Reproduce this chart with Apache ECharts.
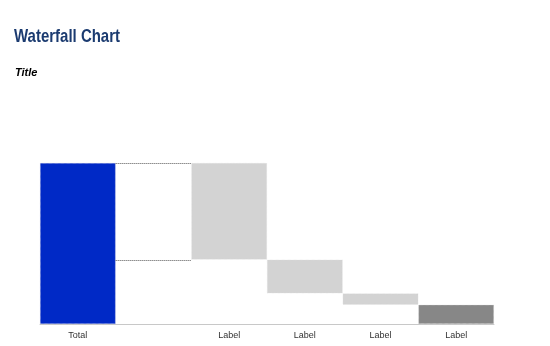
<!DOCTYPE html>
<html><head><meta charset="utf-8">
<script src="https://cdn.jsdelivr.net/npm/echarts@6/dist/echarts.min.js"></script>
<style>html,body{margin:0;padding:0;background:#fff}#c{width:550px;height:346px}</style>
</head><body><div id="c"></div>
<script>
var categories = ['Total', '', 'Label', 'Label', 'Label', 'Label'];
var baseValues = [0, '-', 40, 19, 12, 0];
var barValues = [100, '-', 60, 21, 7, 12];
var barKinds = ['total', 'none', 'step', 'step', 'step', 'end'];
var connectorLevels = [100, 40];
var connectorCategory = 1;
var mainTitle = 'Waterfall Chart';
var subTitle = 'Title';

var kindColor = { total: '#0029C6', step: '#D3D3D3', end: '#878787', none: 'transparent' };

var chart = echarts.init(document.getElementById('c'), null, { renderer: 'canvas' });
chart.setOption({
  animation: false,
  backgroundColor: '#fff',
  graphic: [
    { type: 'text', x: 14, y: 27, scaleX: 0.81, originX: 0, originY: 0,
      style: { text: mainTitle, font: 'bold 18.5px "Liberation Sans", Arial', fill: '#1B3B70', verticalAlign: 'top' } },
    { type: 'text', x: 15, y: 67,
      style: { text: subTitle, font: 'italic bold 11px "Liberation Sans", Arial', fill: '#000', verticalAlign: 'top' } }
  ],
  grid: { left: 40, right: 56, top: 163, bottom: 22 },
  xAxis: {
    type: 'category', data: categories,
    axisLine: { lineStyle: { color: '#C8C8C8', width: 1 } },
    axisTick: { show: false },
    axisLabel: { color: '#333', fontFamily: 'Liberation Sans, Arial', fontSize: 9, margin: 7, interval: 0 }
  },
  yAxis: { type: 'value', min: 0, max: 100, show: false, splitLine: { show: false } },
  series: [
    { type: 'bar', stack: 'w', data: baseValues, barCategoryGap: 0,
      itemStyle: { color: 'transparent' }, silent: true },
    { type: 'bar', stack: 'w', barCategoryGap: 0,
      data: barValues.map(function (v, i) {
        return { value: v, itemStyle: { color: kindColor[barKinds[i]], borderColor: barKinds[i] === 'total' ? '#C8C8E0' : '#E0E0E0', borderWidth: 0.6, borderType: 'dotted' } };
      }) },
    { type: 'custom', coordinateSystem: 'cartesian2d',
      data: connectorLevels.map(function (v) { return [connectorCategory, v]; }),
      renderItem: function (params, api) {
        var p = api.coord([api.value(0), api.value(1)]);
        var w = api.size([1, 0])[0];
        var y = Math.round(p[1]) + 0.5;
        return { type: 'line', shape: { x1: p[0] - w / 2, y1: y, x2: p[0] + w / 2, y2: y },
          style: { stroke: '#555', lineWidth: 1, lineDash: [1, 1] } };
      }, z: 5 }
  ]
});
</script></body></html>
